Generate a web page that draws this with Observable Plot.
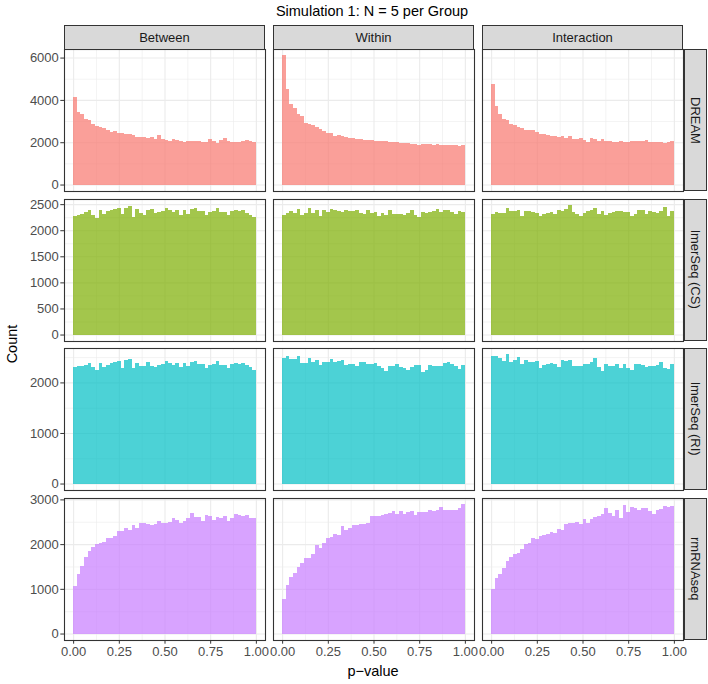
<!DOCTYPE html>
<html><head><meta charset="utf-8">
<script src="https://cdn.jsdelivr.net/npm/d3@7"></script>
<script src="https://cdn.jsdelivr.net/npm/@observablehq/plot@0.6"></script>
<style>
body{margin:0;background:#fff;font-family:"Liberation Sans",Arial,sans-serif;}
#chart{position:relative;width:708px;height:684px;overflow:hidden;background:#fff;}
#chart svg{position:absolute;left:0;}
.strip{position:absolute;background:#D9D9D9;border:1px solid #333;box-sizing:border-box;display:flex;align-items:center;justify-content:center;font-size:13px;color:#1A1A1A;white-space:nowrap;}
.vtext{writing-mode:vertical-rl;}
.title{position:absolute;font-size:14.5px;color:#000;white-space:nowrap;transform:translate(-50%,0);}
</style></head><body><div id="chart"></div>
<script>
// ---------- data ----------
const columns = ["Between", "Within", "Interaction"];
const methods = ["DREAM", "lmerSeq (CS)", "lmerSeq (RI)", "rmRNAseq"];
const methodColors = ["#F8766D", "#7CAE00", "#00BFC4", "#C77CFF"];
const binEdges = [0,0.02,0.04,0.06,0.08,0.1,0.12,0.14,0.16,0.18,0.2,0.22,0.24,0.26,0.28,0.3,0.32,0.34,0.36,0.38,0.4,0.42,0.44,0.46,0.48,0.5,0.52,0.54,0.56,0.58,0.6,0.62,0.64,0.66,0.68,0.7,0.72,0.74,0.76,0.78,0.8,0.82,0.84,0.86,0.88,0.9,0.92,0.94,0.96,0.98,1];
const xTicks = [0, 0.25, 0.5, 0.75, 1];
const yTicksDREAM = [0, 2000, 4000, 6000];
const yTicksCS = [0, 500, 1000, 1500, 2000, 2500];
const yTicksRI = [0, 1000, 2000];
const yTicksRM = [0, 1000, 2000, 3000];

const dreamBetween = [4150,3450,3330,3100,3070,2860,2750,2700,2670,2560,2480,2545,2450,2420,2370,2400,2355,2260,2260,2260,2195,2245,2130,2340,2130,2085,2070,2130,2085,2070,2020,2070,2070,2050,2035,2020,2020,2130,2070,1960,2100,2180,2035,2020,2020,2020,2050,2085,2050,1990];
const dreamWithin = [6100,4500,3810,3630,3330,3255,2920,2860,2795,2700,2620,2530,2450,2420,2305,2340,2290,2260,2210,2180,2165,2130,2115,2085,2085,2040,2070,2040,2040,2020,2020,1990,1975,1945,1945,1910,1930,1880,1910,1895,1910,1865,1895,1850,1865,1865,1850,1850,1820,1865];
const dreamInteraction = [4770,3700,3335,3100,3050,2845,2810,2735,2685,2575,2560,2560,2495,2370,2370,2340,2310,2290,2245,2310,2180,2275,2150,2130,2210,2115,2020,2180,2130,2050,2130,2070,2035,2020,2020,2035,2020,2020,2050,2035,2035,2070,2085,1990,2020,2005,2020,1960,1990,2070];

const csBetween = [2270,2300,2320,2345,2385,2300,2240,2385,2310,2360,2385,2410,2425,2320,2435,2460,2255,2400,2335,2295,2385,2410,2335,2345,2360,2425,2385,2345,2385,2295,2385,2320,2400,2425,2370,2360,2295,2345,2360,2425,2345,2345,2295,2370,2385,2370,2385,2335,2295,2250];
const csWithin = [2300,2335,2360,2335,2410,2300,2335,2425,2335,2385,2270,2385,2345,2410,2385,2360,2345,2385,2360,2360,2395,2335,2320,2385,2335,2345,2280,2335,2295,2395,2320,2310,2310,2295,2335,2385,2295,2245,2345,2335,2345,2360,2410,2345,2385,2385,2345,2310,2360,2345];
const csInteraction = [2315,2345,2335,2335,2425,2360,2370,2385,2280,2370,2360,2345,2335,2270,2310,2335,2345,2320,2385,2370,2410,2475,2345,2320,2270,2335,2360,2385,2425,2310,2370,2295,2335,2345,2360,2360,2345,2345,2280,2310,2395,2395,2310,2360,2345,2335,2360,2450,2280,2370];

const riBetween = [2300,2320,2330,2350,2390,2310,2240,2390,2300,2350,2390,2410,2430,2290,2440,2470,2280,2390,2320,2330,2400,2330,2310,2340,2360,2430,2380,2340,2390,2300,2380,2320,2400,2430,2370,2360,2290,2350,2360,2430,2340,2340,2290,2370,2390,2370,2390,2340,2300,2250];
const riWithin = [2487,2513,2467,2467,2513,2382,2382,2487,2395,2448,2336,2395,2395,2467,2408,2421,2434,2342,2356,2356,2316,2395,2408,2356,2369,2382,2316,2290,2224,2316,2316,2369,2303,2290,2237,2303,2342,2342,2198,2250,2342,2329,2329,2316,2382,2395,2356,2316,2263,2336];
const riInteraction = [2527,2513,2487,2421,2553,2395,2434,2500,2356,2448,2395,2408,2421,2290,2342,2369,2388,2369,2303,2434,2421,2448,2316,2329,2329,2356,2369,2395,2474,2303,2224,2356,2329,2316,2369,2290,2369,2277,2250,2356,2356,2342,2303,2329,2316,2342,2395,2290,2263,2356];

const rmBetween = [1059,1328,1507,1708,1843,1940,1992,2029,2044,2126,2141,2178,2290,2298,2365,2320,2425,2350,2469,2462,2454,2432,2439,2514,2469,2477,2499,2574,2544,2469,2521,2589,2693,2604,2604,2514,2641,2626,2544,2604,2574,2633,2514,2589,2663,2648,2618,2648,2589,2589];
const rmWithin = [783,1089,1261,1365,1492,1582,1693,1693,1783,1977,1917,2029,2141,2156,2216,2193,2402,2320,2365,2432,2417,2439,2439,2469,2626,2618,2618,2648,2663,2701,2730,2678,2738,2678,2708,2738,2648,2708,2723,2723,2753,2738,2753,2835,2753,2753,2768,2760,2798,2887];
const rmInteraction = [1007,1246,1335,1455,1619,1708,1790,1798,1895,1992,2014,2126,2104,2171,2193,2216,2275,2245,2327,2305,2439,2469,2477,2499,2454,2559,2469,2559,2604,2618,2663,2798,2693,2633,2768,2589,2872,2723,2827,2812,2768,2798,2798,2738,2678,2768,2783,2857,2827,2842];

// ---------- assembly ----------
const rowSeries = [
  [dreamBetween, dreamWithin, dreamInteraction],
  [csBetween, csWithin, csInteraction],
  [riBetween, riWithin, riInteraction],
  [rmBetween, rmWithin, rmInteraction]
];
const rowTicks = [yTicksDREAM, yTicksCS, yTicksRI, yTicksRM];

const W = 708, LEFT = 63, PANEL_RIGHT = 684, TOP = 49, PANEL_H = 142, GAP = 7.5;
const FONT = "Liberation Sans, Arial, sans-serif";
const chart = document.getElementById("chart");

function minorTicks(ticks, domain) {
  const step = ticks[1] - ticks[0];
  const out = [];
  for (let v = ticks[0] - step / 2; v <= domain[1]; v += step) if (v >= domain[0]) out.push(v);
  return out;
}

let fxScale = null;
methods.forEach((method, r) => {
  const rows = [];
  columns.forEach((col, c) => {
    rowSeries[r][c].forEach((count, i) => rows.push({column: col, x1: binEdges[i], x2: binEdges[i + 1], count}));
  });
  const ymax = d3.max(rows, d => d.count);
  const yDomain = [-0.05 * ymax, 1.05 * ymax];
  const xDomain = [-0.05, 1.05];
  const last = r === methods.length - 1;
  const mt = 1, mb = last ? 22 : 1;
  const marks = [
    Plot.gridX(minorTicks(xTicks, xDomain), {stroke: "#EBEBEB", strokeOpacity: 1, strokeWidth: 0.6}),
    Plot.gridY(minorTicks(rowTicks[r], yDomain), {stroke: "#EBEBEB", strokeOpacity: 1, strokeWidth: 0.6}),
    Plot.gridX(xTicks, {stroke: "#EBEBEB", strokeOpacity: 1, strokeWidth: 1.1}),
    Plot.gridY(rowTicks[r], {stroke: "#EBEBEB", strokeOpacity: 1, strokeWidth: 1.1}),
    Plot.rectY(rows, {fx: "column", x1: "x1", x2: "x2", y1: 0, y2: "count", fill: methodColors[r], fillOpacity: 0.7, inset: 0, shapeRendering: "crispEdges"}),
    Plot.frame({stroke: "#333333", strokeWidth: 1.1}),
    Plot.axisY(rowTicks[r], {tickSize: 3.7, tickPadding: 2, tickFormat: d3.format("d"), stroke: "#333333", fill: "#4D4D4D", label: null})
  ];
  if (last) marks.push(Plot.axisX(xTicks, {tickSize: 3.7, tickPadding: 3, tickFormat: d3.format(".2f"), stroke: "#333333", fill: "#4D4D4D", label: null}));
  const plot = Plot.plot({
    width: 686, height: PANEL_H + mt + mb,
    marginLeft: LEFT, marginRight: 686 - PANEL_RIGHT, marginTop: mt, marginBottom: mb,
    style: {fontSize: "13px", fontFamily: FONT, background: "transparent", overflow: "visible"},
    fx: {domain: columns, paddingInner: 0.036, paddingOuter: 0, axis: null},
    x: {domain: xDomain, axis: null},
    y: {domain: yDomain},
    marks
  });
  const top = TOP + r * (PANEL_H + GAP);
  plot.style.top = (top - mt) + "px";
  chart.appendChild(plot);
  fxScale = plot.scale("fx");
  // right strip
  const s = document.createElement("div");
  s.className = "strip";
  s.style.left = PANEL_RIGHT + "px"; s.style.top = top + "px";
  s.style.width = (W - 1 - PANEL_RIGHT) + "px"; s.style.height = PANEL_H + "px";
  const t = document.createElement("span"); t.className = "vtext"; t.textContent = method;
  s.appendChild(t); chart.appendChild(s);
});

// top strips
columns.forEach(col => {
  const s = document.createElement("div");
  s.className = "strip";
  const x0 = fxScale.apply(col);
  s.style.left = x0 + "px"; s.style.top = "25px";
  s.style.width = fxScale.bandwidth + "px"; s.style.height = (TOP - 25 + 0.5) + "px";
  s.textContent = col;
  chart.appendChild(s);
});

// titles
const title = document.createElement("div");
title.className = "title"; title.textContent = "Simulation 1: N = 5 per Group";
title.style.left = "372px"; title.style.top = "3px";
chart.appendChild(title);

const xl = document.createElement("div");
xl.className = "title"; xl.textContent = "p\u2212value";
xl.style.left = "373px"; xl.style.top = "663px";
chart.appendChild(xl);

const yl = document.createElement("div");
yl.className = "title"; yl.textContent = "Count";
yl.style.left = "12px"; yl.style.top = "344px";
yl.style.transform = "translate(-50%,-50%) rotate(-90deg)";
chart.appendChild(yl);
</script></body></html>
